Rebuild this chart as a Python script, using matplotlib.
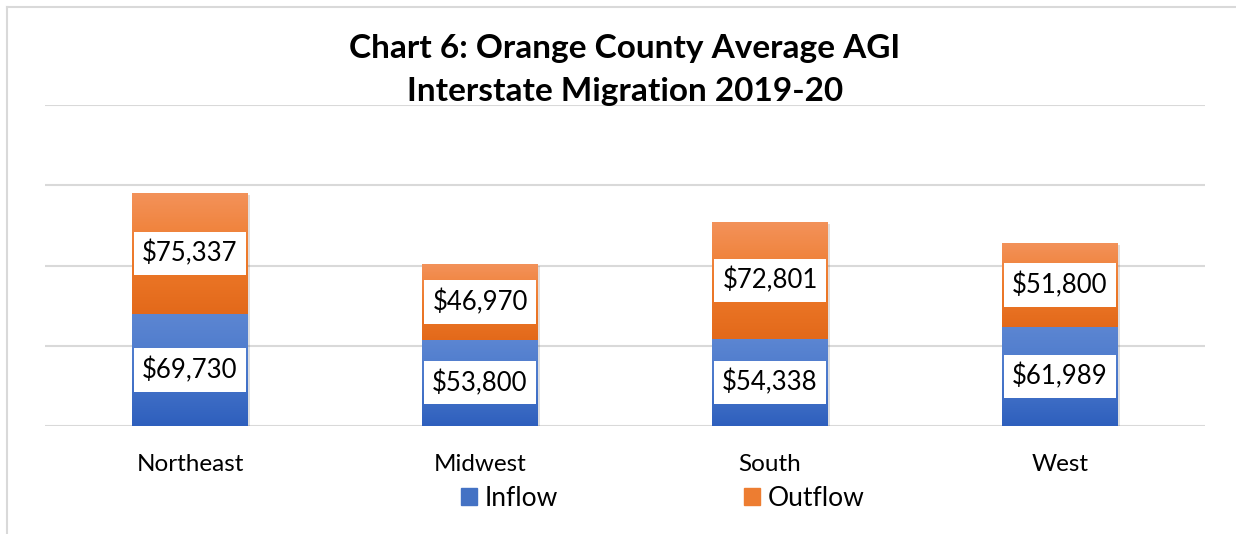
import numpy as np
import matplotlib
matplotlib.use('Agg')
import matplotlib.pyplot as plt
from matplotlib.colors import LinearSegmentedColormap
from matplotlib.lines import Line2D
import matplotlib.patheffects as pe

plt.rcParams['font.family'] = ['Lato', 'DejaVu Sans']

regions = ['Northeast', 'Midwest', 'South', 'West']
inflow = [69730, 53800, 54338, 61989]
outflow = [75337, 46970, 72801, 51800]

blue_cmap = LinearSegmentedColormap.from_list('b', ['#2E5FBD', '#4A78CB', '#5C86D2'])
orange_cmap = LinearSegmentedColormap.from_list('o', ['#E3691A', '#EE7B2C', '#F3925A'])

fig = plt.figure(figsize=(12.36, 5.34), dpi=100)
ax = fig.add_axes([45 / 1236, 1 - 426 / 534, 1160 / 1236, 321 / 534])

x = np.arange(len(regions))
shadow = [pe.SimplePatchShadow(offset=(1.5, -1.5), alpha=0.15), pe.Normal()]
b1 = ax.bar(x, inflow, width=0.4, color='#4472C4', zorder=3, path_effects=shadow)
b2 = ax.bar(x, outflow, width=0.4, bottom=inflow, color='#ED7D31', zorder=3, path_effects=shadow)

# vertical gradient inside each bar segment
grad = np.linspace(0, 1, 256).reshape(-1, 1)
for bars, cmap in [(b1, blue_cmap), (b2, orange_cmap)]:
    for p in bars:
        x0, y0, w, h = p.get_x(), p.get_y(), p.get_width(), p.get_height()
        im = ax.imshow(grad, extent=[x0, x0 + w, y0, y0 + h], origin='lower',
                       aspect='auto', cmap=cmap, zorder=4)
        im.set_clip_path(p)

for i in range(len(regions)):
    for val, base in [(inflow[i], 0), (outflow[i], inflow[i])]:
        ax.text(x[i], base + val / 2, '${:,}'.format(val), ha='center', va='center',
                fontsize=18.5, zorder=6,
                bbox=dict(facecolor='white', edgecolor='none', boxstyle='square,pad=0.33'))

ax.set_xlim(-0.5, 3.5)
ax.set_ylim(0, 200000)
ax.set_yticks([0, 50000, 100000, 150000, 200000])
ax.yaxis.grid(True, color='#D9D9D9', linewidth=1.5, zorder=0)
ax.set_axisbelow(True)
ax.tick_params(axis='y', left=False, labelleft=False)
ax.tick_params(axis='x', bottom=False, labelsize=17.5, pad=17)
ax.set_xticks(x)
ax.set_xticklabels(regions)
for s in ax.spines.values():
    s.set_visible(False)

fig.text(625 / 1236, 1 - 70 / 534, 'Chart 6: Orange County Average AGI\nInterstate Migration 2019-20',
         ha='center', va='center', fontsize=24, fontweight='bold', linespacing=1.62)

handles = [plt.Rectangle((0, 0), 1, 1, color='#4472C4'), plt.Rectangle((0, 0), 1, 1, color='#ED7D31')]
fig.legend(handles, ['Inflow', 'Outflow'], loc='center', bbox_to_anchor=(663 / 1236, 1 - 498 / 534),
           ncol=2, frameon=False, fontsize=19, handlelength=0.6, handleheight=0.6,
           handletextpad=0.3, columnspacing=7.05)

fig.add_artist(Line2D([7 / 1236, 7 / 1236], [0, 1 - 7 / 534], color='#D9D9D9', linewidth=1.5))
fig.add_artist(Line2D([7 / 1236, 1], [1 - 7 / 534, 1 - 7 / 534], color='#D9D9D9', linewidth=1.5))

fig.savefig('out.png', dpi=100)
